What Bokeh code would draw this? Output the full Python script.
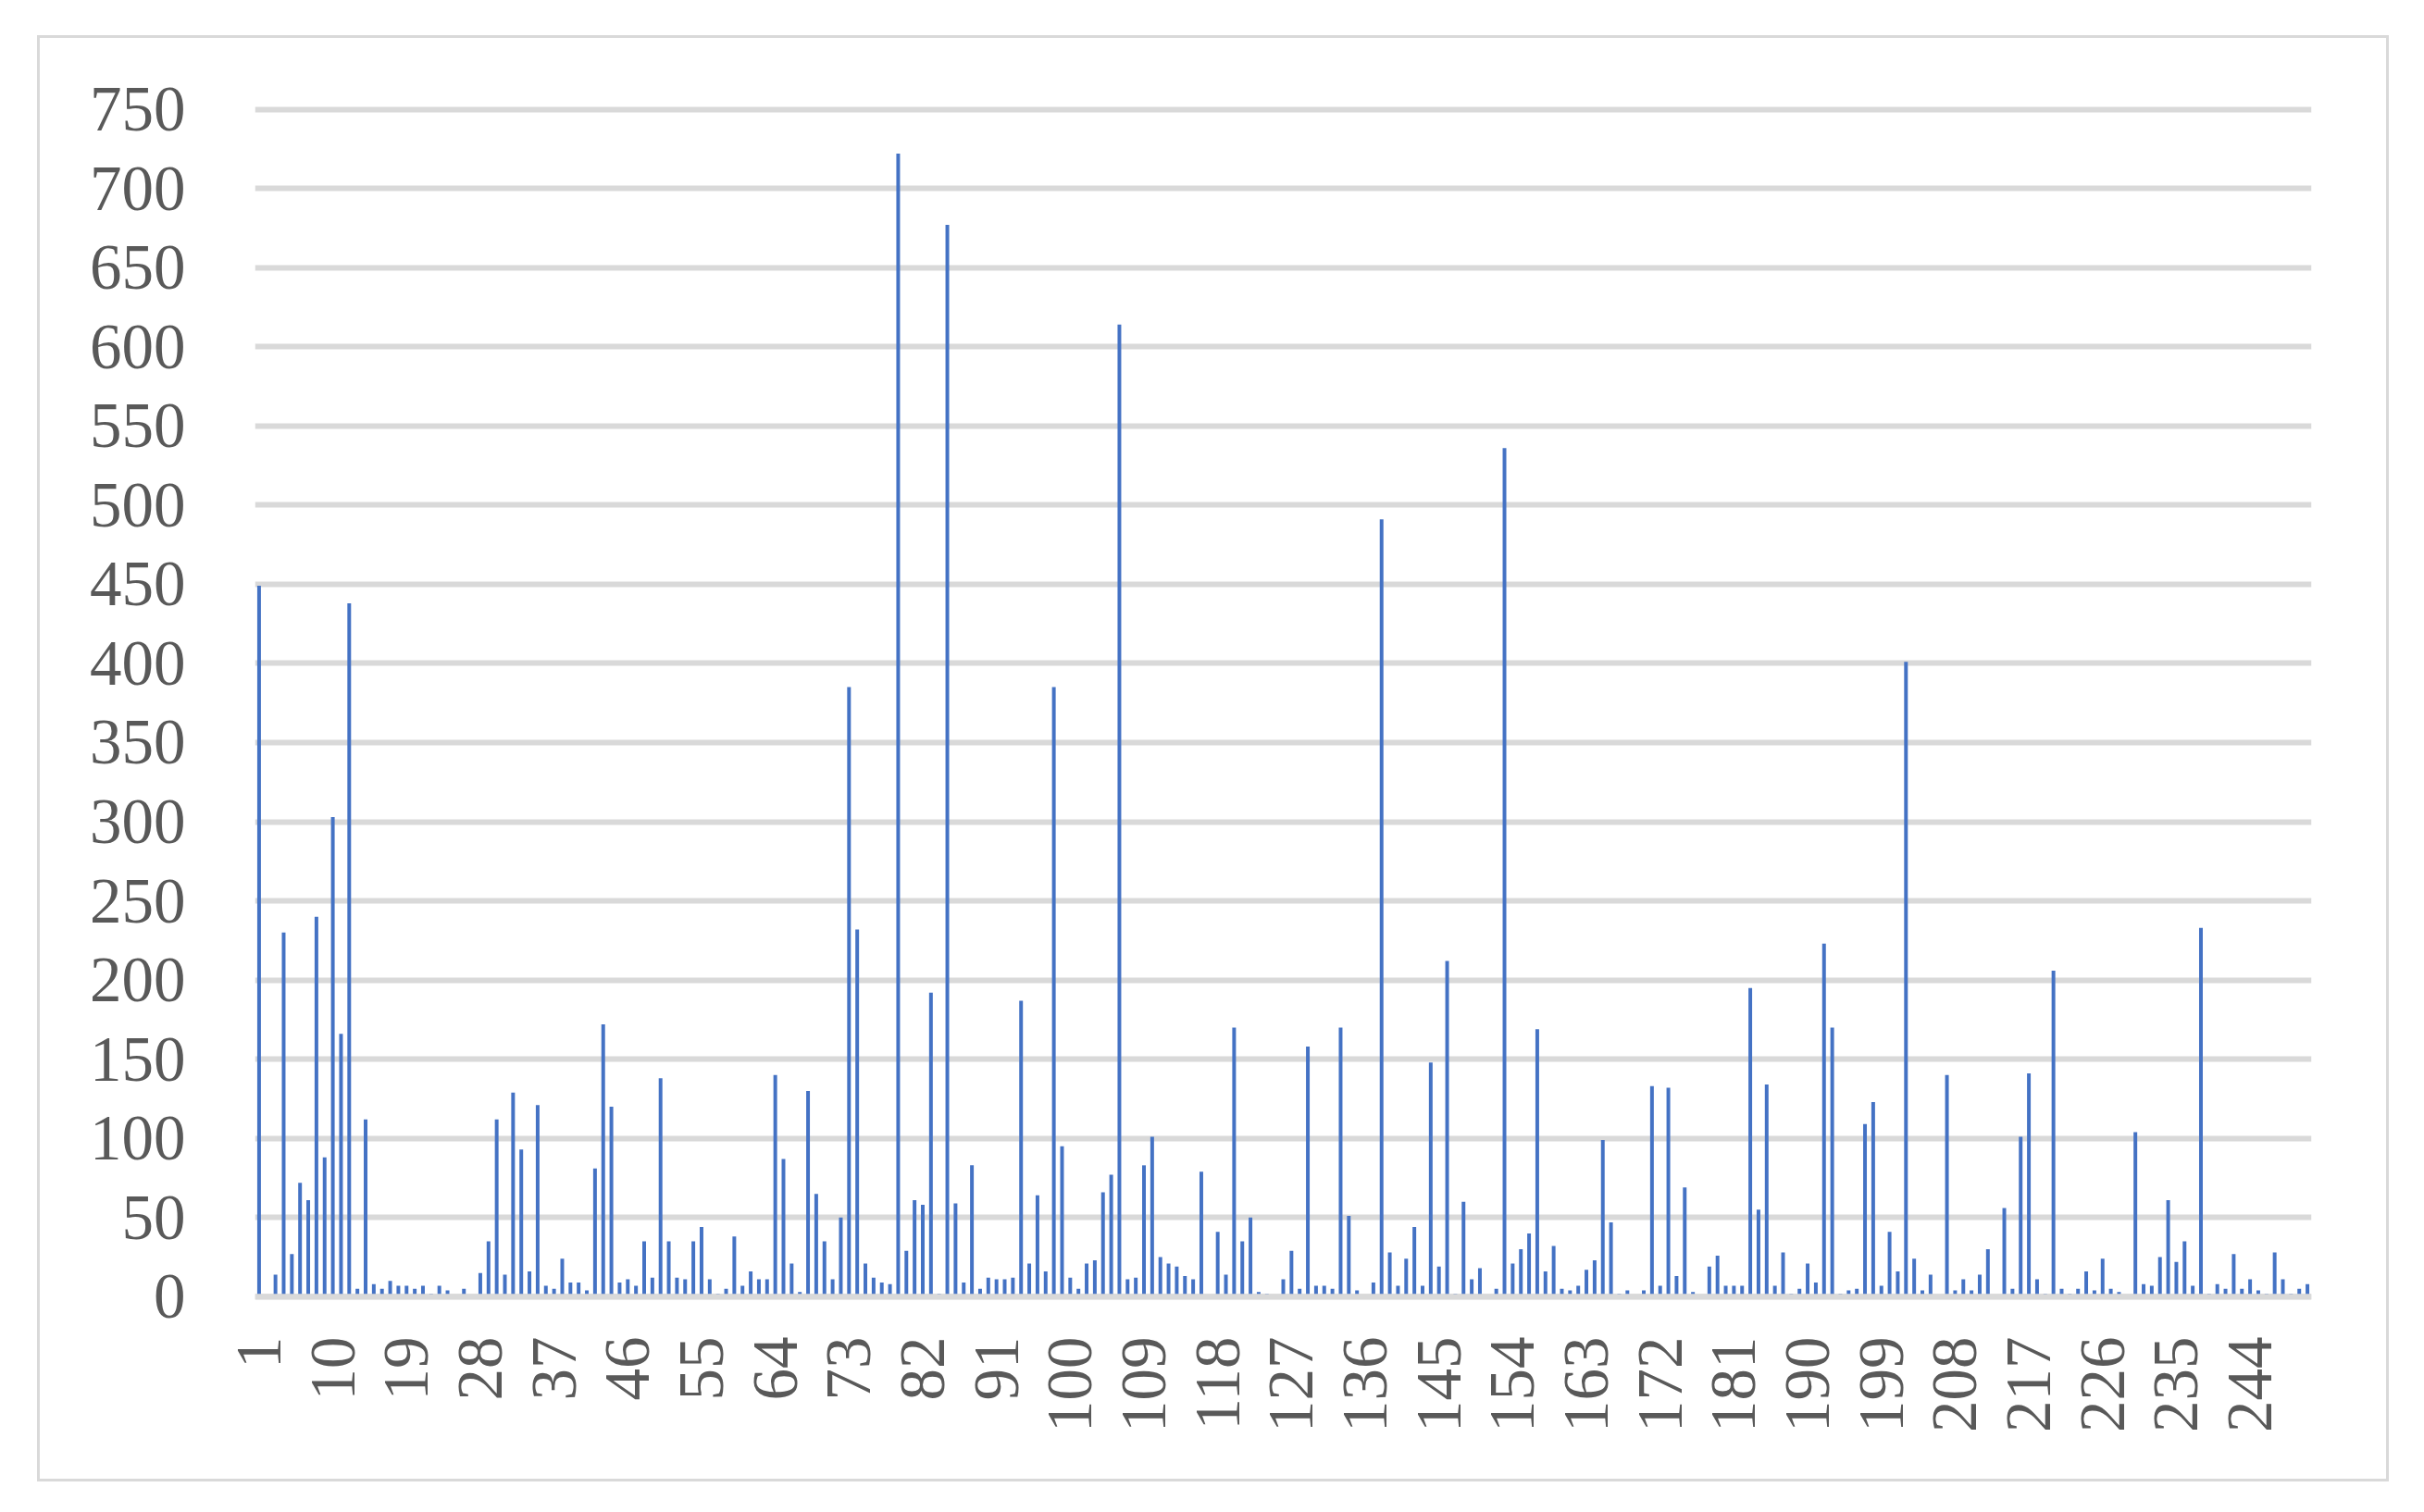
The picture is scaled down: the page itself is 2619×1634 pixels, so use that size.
import math
from bokeh.plotting import figure
from bokeh.models import Range1d, FixedTicker, Span, ColumnDataSource
from bokeh.embed import file_html
from bokeh.resources import INLINE

# category ids 1..251
ids = list(range(1, 252))

counts = [
    449, 1, 14, 230, 27, 72, 61, 240, 88, 303,
    166, 438, 5, 112, 8, 5, 10, 7, 7, 5,
    7, 2, 7, 4, 0, 5, 0, 15, 35, 112,
    14, 129, 93, 16, 121, 7, 5, 24, 9, 9,
    4, 81, 172, 120, 9, 11, 7, 35, 12, 138,
    35, 12, 11, 35, 44, 11, 2, 5, 38, 7,
    16, 11, 11, 140, 87, 21, 3, 130, 65, 35,
    11, 50, 385, 232, 21, 12, 9, 8, 722, 29,
    61, 58, 192, 2, 677, 59, 9, 83, 5, 12,
    11, 11, 12, 187, 21, 64, 16, 385, 95, 12,
    5, 21, 23, 66, 77, 614, 11, 12, 83, 101,
    25, 21, 19, 13, 11, 79, 0, 41, 14, 170,
    35, 50, 3, 2, 0, 11, 29, 5, 158, 7,
    7, 5, 170, 51, 4, 0, 9, 491, 28, 7,
    24, 44, 7, 148, 19, 212, 2, 60, 11, 18,
    0, 5, 536, 21, 30, 40, 169, 16, 32, 5,
    4, 7, 17, 23, 99, 47, 2, 4, 0, 4,
    133, 7, 132, 13, 69, 3, 0, 19, 26, 7,
    7, 7, 195, 55, 134, 7, 28, 2, 5, 21,
    9, 223, 170, 2, 4, 5, 109, 123, 7, 41,
    16, 401, 24, 4, 14, 0, 140, 4, 11, 4,
    14, 30, 0, 56, 5, 101, 141, 11, 2, 206,
    5, 2, 5, 16, 4, 24, 5, 3, 0, 104,
    8, 7, 25, 61, 22, 35, 7, 233, 2, 8,
    5, 27, 5, 11, 4, 2, 28, 11, 2, 5,
    8,
]

x_ticks = [1, 10, 19, 28, 37, 46, 55, 64, 73, 82, 91, 100, 109, 118, 127,
           136, 145, 154, 163, 172, 181, 190, 199, 208, 217, 226, 235, 244]
y_ticks = [0, 50, 100, 150, 200, 250, 300, 350, 400, 450, 500, 550, 600, 650, 700, 750]

src = ColumnDataSource(data=dict(x=ids, top=counts))

p = figure(
    width=2541, height=1563,
    x_range=Range1d(0.5, 251.5), y_range=Range1d(-3, 755),
    output_backend="svg", toolbar_location=None,
    min_border_left=232, min_border_right=87,
    min_border_top=68, min_border_bottom=198,
    margin=(38, 0, 0, 40),
)
p.styles = {"border": "3px solid #D9D9D9"}
p.background_fill_color = "white"
p.border_fill_color = "white"
p.outline_line_color = None

p.vbar(x="x", top="top", bottom=0, width=0.45, source=src,
       fill_color="#4472C4", line_color=None)

p.add_layout(Span(location=0, dimension="width", line_color="#D9D9D9",
                  line_width=6, level="overlay"))

p.xgrid.visible = False
p.ygrid.grid_line_color = "#D9D9D9"
p.ygrid.grid_line_width = 6

p.yaxis.ticker = FixedTicker(ticks=y_ticks)
p.xaxis.ticker = FixedTicker(ticks=x_ticks)

for ax in (p.xaxis[0], p.yaxis[0]):
    ax.axis_line_color = None
    ax.major_tick_line_color = None
    ax.minor_tick_line_color = None
    ax.major_tick_out = 0
    ax.major_tick_in = 0
    ax.minor_tick_out = 0
    ax.major_label_text_font = "Liberation Serif"
    ax.major_label_text_font_size = "69px"
    ax.major_label_text_color = "#595959"

p.yaxis.major_label_standoff = 75
p.xaxis.major_label_standoff = 38
p.xaxis.major_label_orientation = math.pi / 2

open("out.html", "w").write(file_html(p, INLINE))
